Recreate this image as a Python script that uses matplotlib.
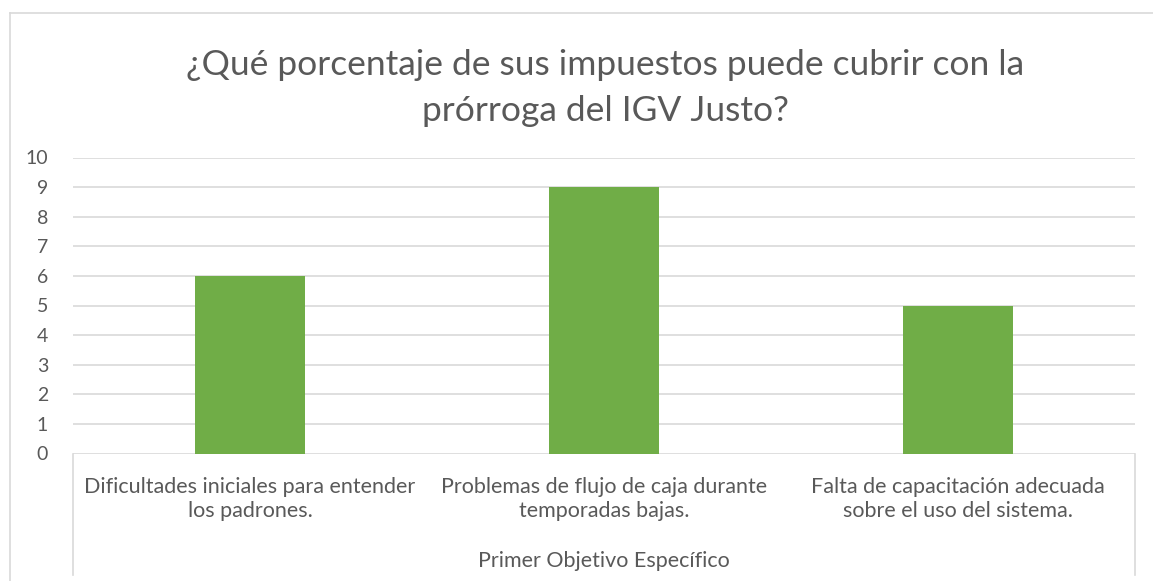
import matplotlib as mpl
mpl.use('Agg')
import matplotlib.pyplot as plt
from matplotlib.lines import Line2D

plt.rcParams['font.family'] = ['Lato', 'DejaVu Sans']

# data
categories = ['Dificultades iniciales para entender\nlos padrones.',
              'Problemas de flujo de caja durante\ntemporadas bajas.',
              'Falta de capacitación adecuada\nsobre el uso del sistema.']
values = [6, 9, 5]
group_label = 'Primer Objetivo Específico'
title = '¿Qué porcentaje de sus impuestos puede cubrir con la\nprórroga del IGV Justo?'

W, H = 1153, 581
fig = plt.figure(figsize=(W / 100, H / 100), dpi=100)

x0, x1 = 73, 1135
y0, y10 = 453.5, 157.5
ax = fig.add_axes([x0 / W, 1 - y0 / H, (x1 - x0) / W, (y0 - y10) / H])

text_col = '#595959'
grid_col = '#D9D9D9'

pos = list(range(len(categories)))
ax.bar(pos, values, width=0.313, color='#70AD47', zorder=3)

ax.set_xlim(-0.5, len(categories) - 0.5)
ax.set_ylim(0, 10)
ax.set_yticks(range(0, 11))
ax.grid(axis='y', color=grid_col, lw=1.2, zorder=0)
for s in ax.spines.values():
    s.set_visible(False)
ax.tick_params(axis='y', length=0, pad=18, labelsize=14, labelcolor=text_col)
ax.set_xticks(pos)
ax.set_xticklabels(categories, fontsize=15.5, color=text_col, linespacing=1.22)
ax.tick_params(axis='x', length=0, pad=17)

# multi-level category box
box_bottom = (y0 - 575) / (y0 - y10)
for xa in (0, 1):
    ax.add_line(Line2D([xa, xa], [0, box_bottom], transform=ax.transAxes,
                       color=grid_col, lw=1.2, clip_on=False))
ax.text(0.5, (y0 - 561) / (y0 - y10), group_label, transform=ax.transAxes,
        ha='center', va='center', fontsize=15.5, color=text_col)

fig.text(0.5 + 29 / W, 1 - 88 / H, title, ha='center', va='center',
         fontsize=25.5, color=text_col, linespacing=1.55)

# chart border
bx, by = 9.5 / W, 1 - 13 / H
fig.add_artist(Line2D([bx, bx], [0, by], color=grid_col, lw=1.2))
fig.add_artist(Line2D([bx, 1], [by, by], color=grid_col, lw=1.2))

fig.savefig('out.png', dpi=100)
